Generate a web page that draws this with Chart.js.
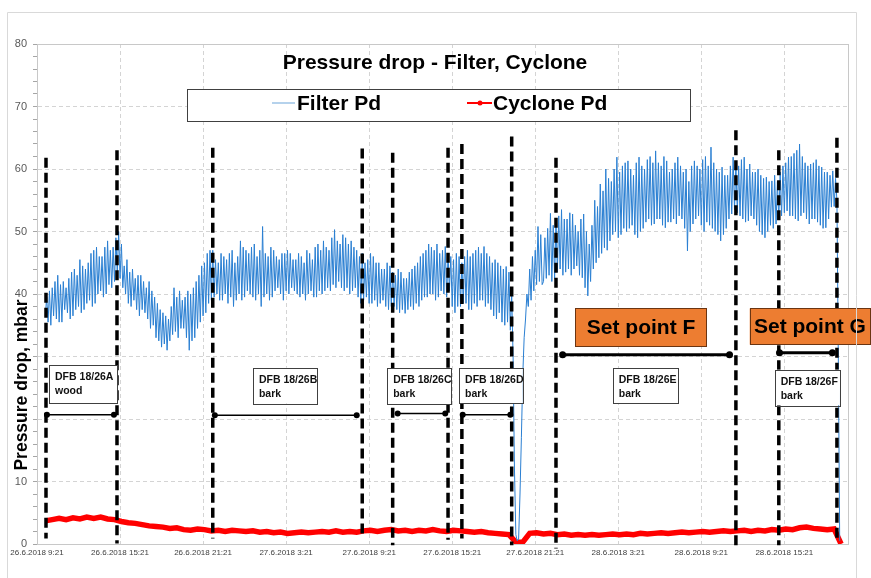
<!DOCTYPE html>
<html><head><meta charset="utf-8">
<script src="https://cdn.jsdelivr.net/npm/chart.js@4/dist/chart.umd.min.js"></script>
<style>html,body{margin:0;padding:0;background:#fff;}#wrap{position:relative;width:871px;height:578px;}</style>
</head><body><div id="wrap"><canvas id="c" width="871" height="578"></canvas></div>
<script>
// ---- data (hours since 26.6.2018 9:21) ----
const xTickLabels = ['26.6.2018 9:21','26.6.2018 15:21','26.6.2018 21:21','27.6.2018 3:21','27.6.2018 9:21','27.6.2018 15:21','27.6.2018 21:21','28.6.2018 3:21','28.6.2018 9:21','28.6.2018 15:21'];
const yTickLabelsShown = [0,10,40,50,60,70,80];
const chartTitle = 'Pressure drop - Filter, Cyclone';
const yAxisTitle = 'Pressure drop, mbar';
const seriesNames = ['Filter Pd','Cyclone Pd'];

const filterStartHour = 0.6;
const filterStepHours = 0.1;
const filterPd = [
 36.5,39.5,35.5,40.5,35,41,36.5,42,36,43,35.5,41.5,35.5,42,37.5,41,37,42.5,36,43.5,
 36.5,44,37.5,43,38,45.5,37,44.5,37.5,44,38.5,45,39,46.5,38,47,38.5,47.5,40,46,
 40.5,46,39.5,47.5,40,48.5,41.5,47,41,47.5,42,49,43.5,50,42.5,48,41,44.5,40,45.5,
 38.5,43.5,38,44,39,42.5,37.5,43,36.5,43,37.5,42,37,41,36,42,34.5,40.5,35,39.5,
 33,38.5,32.5,37.5,31.5,37,32,36.5,31,36,32.5,38,33.5,41,34,39.5,33,40.5,34.5,39,
 34.5,39.5,33,40.5,31,40,32.5,41,33,42,34.5,43,35.5,44.5,36.5,45,37,46.5,38.5,47,
 39,47,39.5,45.5,40,45,39,46.5,39,46,40,45.5,38.5,46.5,39.5,47,38,45,39,46,
 40,48.5,39,47.5,39.5,47,40.5,46.5,40,47.5,39.5,48,39,46,40,47,38,50.8,39.5,46.5,
 40,46,39,47.5,39.5,47,40.5,46,41,45.5,40,46.5,39,46.5,40.5,47,40,46.5,41,45.5,
 40.5,45.5,40,46.5,39.5,46,40,45,39,47,40,46.5,40.5,45.5,39.5,47.5,39.5,48,40.5,47,
 40,48.5,40.5,47.5,41,47,40.5,49,41.5,50.3,41,48.5,42,48,41,49.5,40.5,49,41,48,
 40,48.5,40.5,47.5,41,47,39.5,46,38.5,46.5,39,45,39.5,45.5,38.5,46.5,38.5,46,39,45,
 38,45,38.5,44,39,44,38,45,37.5,44.5,38,43.5,38,43,37.5,44,37,43.5,37.5,42.5,
 36.9,42.5,37.5,43.5,38,44,37.5,44.5,38.5,45,38,46,39,46.5,39.5,47,39.5,48,40,47.5,
 40,47,39,48,39.5,46.5,40.5,47,40,47.6,39.5,46.5,40.5,46,38,45.5,37,46.5,38,46,
 38,45,38.5,46,38.5,47,37.5,46,37.5,46.5,38.5,47,38,47.5,39,46.5,39,47.6,38,46.5,
 38.5,46,37.5,45,36.5,45.5,36,45,37,44.5,35.5,44,35,44.4,35.5,43.5,34.2,40,30,12,
 1.5,0.5,0.8,8,17,27,33,36,40,38,44,39,46,40.5,47,41.5,50.8,42,49.5,41.5,
 42,49,42.5,50.5,43,52.9,42,51,42.5,51.5,43.5,52.5,44,53.5,43,52,43.5,52,44,53,
 43,52.8,44,51,44.5,50,43,52,42.6,52.8,41,50,39.7,48,42,51,44,55,45,54,
 45.8,57.6,46.5,56.5,47.4,60,47,58.5,48.5,58,49.5,60,50,61.9,49,59.5,49.5,60.5,50.5,61,
 50,61.3,50.5,60,51,59,49.5,61,49,61.9,50,60.5,50.5,60,51.5,61.5,52,62,51,61,
 51.2,62.9,52,61,52,60.5,51,62,50.6,61.3,51.5,59.5,51.5,60,52,61,51.2,61.9,52.5,60.5,
 52,59.5,50.5,60,46.9,58,50,60.5,51.2,61.3,52,60.5,52.5,60,51,61.5,50,62,51.5,60.5,
 51,63.5,50.5,61,50,60,49.5,59.5,48.5,60.3,49.5,59,50.5,59,52,60.5,52.8,61.9,53.5,61,
 53,60.5,52.5,61.5,52,61.9,51.5,60,51.7,60.8,52.5,59.5,52,59.5,51,60,50,59,49.5,58.5,
 49,58.7,50,58,51,58.1,50.5,59,51.2,58,52,59.5,52.5,60.5,53,61,53.3,61.9,52.5,62,
 52.5,62.5,52,63,51.7,64,52.5,62,53,61,52,60.5,51.2,60.8,52,61,52,61.5,51.5,60.5,
 51,60.3,50.5,59.5,50.6,59.5,52,59,53.9,59.7,54,58.5,55,30,0.5
];

const cycloneStartHour = 0.6;
const cycloneStepHours = 0.5;
const cyclonePd = [
 3.7,3.9,4.1,3.9,4.2,4.0,4.3,4.1,4.3,4.0,
 3.9,3.6,3.4,3.3,3.1,2.9,2.8,2.7,2.5,2.6,
 2.3,2.2,2.4,2.3,2.1,2.2,2.0,2.2,2.1,2.0,
 2.1,1.9,2.0,1.8,1.9,1.7,1.8,1.9,1.8,1.9,
 2.0,1.9,2.1,1.9,2.0,1.9,2.1,2.2,2.0,2.2,
 2.3,2.1,2.2,2.0,2.2,2.1,2.3,2.1,2.0,2.2,
 2.1,2.0,1.9,2.0,1.8,1.7,1.6,1.5,0.3,0.3,
 1.7,1.8,1.6,1.7,1.5,1.6,1.4,1.5,1.4,1.5,
 1.4,1.5,1.6,1.5,1.6,1.5,1.7,1.6,1.7,1.8,
 1.7,1.8,1.9,1.8,1.9,2.0,1.9,2.0,2.1,2.0,
 2.1,2.2,2.0,2.2,2.1,2.3,2.2,2.4,2.3,2.6,
 2.7,2.5,2.4,2.3,2.4,0
];

// period separator lines: hour, top value, bottom value
const separatorHours = [0.65,5.78,12.7,23.5,25.7,29.7,30.7,34.3,37.5,50.5,53.6,57.8];
const separatorTops  = [61.8,63,63.4,63.3,62.6,63.4,64,65.2,61.8,66.2,63,65];
const separatorBottoms = [0.9,0.1,0.9,1.2,-0.2,0.7,0.9,-0.2,-0.7,-0.2,-0.2,0.6];

// test period ranges: start hour, end hour, level
const rangeStarts = [0.72,12.85,26.06,30.76,37.98,53.65];
const rangeEnds   = [5.56,23.1,29.5,34.2,50.04,57.47];
const rangeLevels = [20.7,20.6,20.9,20.7,30.3,30.6];

const periodNames = ['DFB 18/26A','DFB 18/26B','DFB 18/26C','DFB 18/26D','DFB 18/26E','DFB 18/26F'];
const periodFuels = ['wood','bark','bark','bark','bark','bark'];
const setPointNames = ['Set point F','Set point G'];

// ---- layout of annotation boxes (in axis units) ----
const periodBoxes = [[0.87,5.78,28.6,22.5],[15.6,20.2,28.2,22.5],[25.3,29.9,28.1,22.3],[30.5,35.1,28.1,22.5],[41.6,46.3,28.1,22.5],[53.3,58.0,27.9,22.2]];
const setPointBoxes = [[38.9,48.4,37.7,31.6],[51.5,60.2,37.7,31.9]];

const filterData = filterPd.map((v,i)=>({x: filterStartHour + i*filterStepHours, y: v}));
const cycloneData = cyclonePd.map((v,i)=>({x: cycloneStartHour + i*cycloneStepHours, y: v}));

const FONT = "'Liberation Sans', Arial, sans-serif";

const overlay = {
  id: 'overlay',
  afterDatasetsDraw(chart) {
    const ctx = chart.ctx, xs = chart.scales.x, ys = chart.scales.y, ca = chart.chartArea;
    ctx.save();
    ctx.strokeStyle = '#c8c8c8'; ctx.lineWidth = 1;
    ctx.strokeRect(Math.round(ca.left)+0.5, Math.round(ca.top)+0.5, Math.round(ca.right-ca.left), Math.round(ca.bottom-ca.top));
    ctx.strokeStyle = '#000'; ctx.lineWidth = 3.5; ctx.setLineDash([10,5]);
    separatorHours.forEach((h,i)=>{
      const x = xs.getPixelForValue(h);
      ctx.beginPath(); ctx.moveTo(x, ys.getPixelForValue(separatorTops[i])); ctx.lineTo(x, ys.getPixelForValue(separatorBottoms[i])); ctx.stroke();
    });
    ctx.setLineDash([]);
    ctx.fillStyle = '#000';
    rangeStarts.forEach((s,i)=>{
      const x1 = xs.getPixelForValue(s), x2 = xs.getPixelForValue(rangeEnds[i]), y = ys.getPixelForValue(rangeLevels[i]);
      ctx.lineWidth = i>=4 ? 3 : 1.5;
      ctx.beginPath(); ctx.moveTo(x1,y); ctx.lineTo(x2,y); ctx.stroke();
      const r = i>=4 ? 3.5 : 3;
      [x1,x2].forEach(x=>{ctx.beginPath(); ctx.arc(x,y,r,0,Math.PI*2); ctx.fill();});
    });
    periodBoxes.forEach((b,i)=>{
      const x1 = xs.getPixelForValue(b[0]), x2 = xs.getPixelForValue(b[1]);
      const y1 = ys.getPixelForValue(b[2]), y2 = ys.getPixelForValue(b[3]);
      ctx.fillStyle = '#fff'; ctx.fillRect(x1,y1,x2-x1,y2-y1);
      ctx.strokeStyle = '#404040'; ctx.lineWidth = 1;
      ctx.strokeRect(Math.round(x1)+0.5, Math.round(y1)+0.5, Math.round(x2-x1), Math.round(y2-y1));
      ctx.fillStyle = '#111'; ctx.font = 'bold 10.5px '+FONT; ctx.textAlign='left'; ctx.textBaseline='middle';
      ctx.fillText(periodNames[i], x1+6, y1+12);
      ctx.fillText(periodFuels[i], x1+6, y1+26);
    });
    setPointBoxes.forEach((b,i)=>{
      const x1 = xs.getPixelForValue(b[0]), x2 = xs.getPixelForValue(b[1]);
      const y1 = ys.getPixelForValue(b[2]), y2 = ys.getPixelForValue(b[3]);
      ctx.fillStyle = '#ED7D31'; ctx.fillRect(x1,y1,x2-x1,y2-y1);
      ctx.strokeStyle = '#6b3512'; ctx.lineWidth = 1;
      ctx.strokeRect(Math.round(x1)+0.5, Math.round(y1)+0.5, Math.round(x2-x1), Math.round(y2-y1));
      ctx.fillStyle = '#000'; ctx.font = 'bold 21px '+FONT; ctx.textAlign='center'; ctx.textBaseline='middle';
      ctx.fillText(setPointNames[i], (x1+x2)/2, (y1+y2)/2+1);
    });
    ctx.fillStyle = '#000'; ctx.font = 'bold 21px '+FONT; ctx.textAlign='center'; ctx.textBaseline='middle';
    ctx.fillText(chartTitle, 435, 63);
    ctx.fillStyle = '#fff'; ctx.fillRect(187,89,503,32);
    ctx.strokeStyle = '#404040'; ctx.lineWidth = 1; ctx.strokeRect(187.5,89.5,503,32);
    ctx.strokeStyle = '#9dc3e6'; ctx.lineWidth = 1.5;
    ctx.beginPath(); ctx.moveTo(272,103); ctx.lineTo(295,103); ctx.stroke();
    ctx.strokeStyle = '#ff0000'; ctx.lineWidth = 2;
    ctx.beginPath(); ctx.moveTo(467,103); ctx.lineTo(492,103); ctx.stroke();
    ctx.fillStyle = '#ff0000'; ctx.beginPath(); ctx.arc(480,103,2.5,0,Math.PI*2); ctx.fill();
    ctx.fillStyle = '#000'; ctx.font = 'bold 21px '+FONT; ctx.textAlign='left'; ctx.textBaseline='middle';
    ctx.fillText(seriesNames[0], 297, 104);
    ctx.fillText(seriesNames[1], 493, 104);
    ctx.save(); ctx.translate(22, 385); ctx.rotate(-Math.PI/2);
    ctx.font = 'bold 17.5px '+FONT; ctx.textAlign='center'; ctx.textBaseline='middle'; ctx.fillStyle='#000';
    ctx.fillText(yAxisTitle, 0, 0);
    ctx.restore();
    ctx.strokeStyle = '#d9d9d9'; ctx.lineWidth = 1;
    ctx.beginPath(); ctx.moveTo(7.5,600); ctx.lineTo(7.5,12.5); ctx.lineTo(856.5,12.5); ctx.lineTo(856.5,600); ctx.stroke();
    ctx.restore();
  }
};

new Chart(document.getElementById('c'), {
  type: 'line',
  data: {
    datasets: [
      {label: seriesNames[0], data: filterData, borderColor: '#2a7fd2', borderWidth: 1, pointRadius: 0, tension: 0},
      {label: seriesNames[1], data: cycloneData, borderColor: '#ff0000', borderWidth: 5.5, pointRadius: 0, tension: 0}
    ]
  },
  options: {
    responsive: false, animation: false, devicePixelRatio: 1,
    layout: {padding: {left: 0, right: 23, top: 44, bottom: 0}},
    plugins: {legend: {display: false}, title: {display: false}, tooltip: {enabled: false}},
    scales: {
      x: {
        type: 'linear', min: 0, max: 58.6,
        afterFit(s){ s.height = 34; },
        border: {color: '#bfbfbf', width: 1, dash: [4,3]},
        grid: {color: '#d4d4d4', drawTicks: false, lineWidth: 1},
        ticks: {stepSize: 6, includeBounds: false, autoSkip: false, maxRotation: 0, padding: 4,
          color: '#404040', font: {size: 8, family: FONT},
          callback: v => (Math.abs(v/6 - Math.round(v/6))<1e-6 ? (xTickLabels[Math.round(v/6)]||'') : '')}
      },
      y: {
        min: 0, max: 80,
        afterFit(s){ s.width = 37; },
        border: {color: '#bfbfbf', width: 1, dash: [4,3]},
        grid: {
          color: c => (c.tick && c.tick.value % 10 === 0 && c.tick.value !== 0 ? '#d4d4d4' : 'rgba(0,0,0,0)'),
          tickColor: '#a6a6a6', tickLength: 4, drawTicks: true
        },
        ticks: {stepSize: 2, autoSkip: false, padding: 6, color: '#595959', font: {size: 11, family: FONT},
          callback: v => (yTickLabelsShown.includes(v) ? String(v) : '')}
      }
    }
  },
  plugins: [overlay]
});
</script>
</body></html>
